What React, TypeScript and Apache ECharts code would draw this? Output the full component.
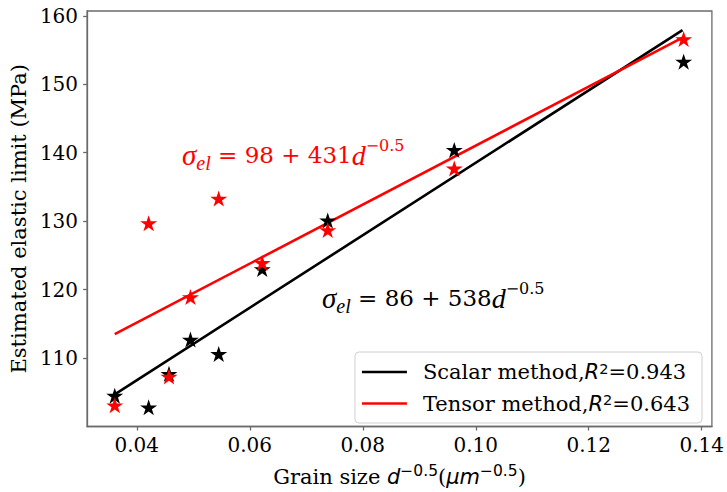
import React, { useEffect, useRef } from "react";
import * as echarts from "echarts";

// grain size d^-0.5 (µm^-0.5)
const grainSize = [0.0361, 0.0421, 0.0457, 0.0495, 0.0545, 0.0622, 0.0738, 0.0962, 0.1368];
// estimated elastic limit (MPa)
const scalarValues = [104.4, 102.7, 107.6, 112.6, 110.5, 122.9, 130.0, 140.3, 153.2];
const tensorValues = [103.0, 129.6, 107.2, 118.8, 133.2, 123.8, 128.6, 137.6, 156.5];
// fitted lines (end points)
const fitX = [0.0361, 0.1366];
const scalarFit = [104.7, 157.9];
const tensorFit = [113.5, 156.8];
const xTicks = [0.04, 0.06, 0.08, 0.1, 0.12, 0.14];
const yTicks = [110, 120, 130, 140, 150, 160];

const STAR =
  "path://M100,0 L122.45,69.1 L195.1,69.1 L136.33,111.8 L158.8,180.9 L100,138.2 L41.2,180.9 L63.67,111.8 L4.9,69.1 L77.55,69.1 Z";

const SERIF = "DejaVu Serif";
const MATH = "DejaVu Sans";

function pairs(xs: number[], ys: number[]) {
  return xs.map((x, i) => [x, ys[i]]);
}

function mathRich(color: string, size: number) {
  return {
    g: { fontFamily: "Liberation Serif", fontStyle: "italic", fontSize: size + 6, fill: color, color, lineHeight: 36, verticalAlign: "middle" },
    sub: { fontFamily: "Liberation Serif", fontStyle: "italic", fontSize: size - 3, fill: color, color, lineHeight: 26, verticalAlign: "bottom" },
    n: { fontFamily: SERIF, fontSize: size, fill: color, color, lineHeight: 36, verticalAlign: "middle" },
    i: { fontFamily: "Liberation Serif", fontStyle: "italic", fontSize: size + 5, fill: color, color, lineHeight: 36, verticalAlign: "middle" },
    sup: { fontFamily: SERIF, fontSize: size - 7, fill: color, color, lineHeight: 20, verticalAlign: "top" },
  };
}

export default function App() {
  const ref = useRef<HTMLDivElement>(null);
  useEffect(() => {
    if (!ref.current) return;
    const chart = echarts.init(ref.current, null, { renderer: "svg" });
    const axisLineStyle = { color: "#6b6b6b", width: 1.3 };
    chart.setOption({
      animation: false,
      backgroundColor: "#ffffff",
      grid: {
        left: 87,
        right: 14,
        top: 11,
        bottom: 58,
        show: true,
        borderColor: "#6b6b6b",
        borderWidth: 1.3,
        backgroundColor: "transparent",
      },
      xAxis: {
        type: "value",
        min: 0.0312,
        max: 0.1418,
        splitLine: { show: false },
        axisLine: { show: true, onZero: false, lineStyle: axisLineStyle },
        axisTick: { show: true, length: 4, lineStyle: axisLineStyle, customValues: xTicks },
        axisLabel: {
          customValues: xTicks,
          formatter: (v: number) => v.toFixed(2),
          fontFamily: SERIF,
          fontSize: 20,
          color: "#000",
          margin: 8,
        },
        name: "{t|Grain size }{i|d}{sup|−0.5}{t|(}{i|μm}{sup|−0.5}{t|)}",
        nameLocation: "middle",
        nameGap: 36,
        nameTextStyle: {
          rich: {
            t: { fontFamily: SERIF, fontSize: 21, color: "#000", lineHeight: 28, verticalAlign: "middle" },
            i: { fontFamily: MATH, fontStyle: "italic", fontSize: 21, color: "#000", lineHeight: 28, verticalAlign: "middle" },
            sup: { fontFamily: MATH, fontSize: 15.5, color: "#000", lineHeight: 18, verticalAlign: "top" },
          },
        },
      },
      yAxis: {
        type: "value",
        min: 100.0,
        max: 160.7,
        splitLine: { show: false },
        axisLine: { show: true, onZero: false, lineStyle: axisLineStyle },
        axisTick: { show: true, length: 4, lineStyle: axisLineStyle, customValues: yTicks },
        axisLabel: {
          customValues: yTicks,
          formatter: (v: number) => String(Math.round(v)),
          fontFamily: SERIF,
          fontSize: 20,
          color: "#000",
          margin: 9,
        },
        name: "Estimated elastic limit (MPa)",
        nameLocation: "middle",
        nameGap: 43,
        nameTextStyle: { fontFamily: SERIF, fontSize: 21, color: "#000" },
      },
      legend: {
        right: 25,
        bottom: 69,
        orient: "vertical",
        data: ["Scalar method", "Tensor method"],
        icon: "rect",
        itemWidth: 45,
        itemHeight: 2.5,
        itemGap: 10,
        padding: [9, 12, 9, 7],
        borderColor: "#d0d0d0",
        borderWidth: 1,
        borderRadius: 4,
        backgroundColor: "rgba(255,255,255,0.85)",
        formatter: (name: string) =>
          name === "Scalar method"
            ? "{t|Scalar method,}{i|R}{s|2}{t|=0.943}"
            : "{t|Tensor method,}{i|R}{s|2}{t|=0.643}",
        textStyle: {
          padding: [0, 0, 0, 11],
          rich: {
            t: { fontFamily: SERIF, fontSize: 21, color: "#000", lineHeight: 22, verticalAlign: "middle" },
            i: { fontFamily: MATH, fontStyle: "italic", fontSize: 21, color: "#000", lineHeight: 22, verticalAlign: "middle" },
            s: { fontFamily: MATH, fontSize: 14.5, color: "#000", lineHeight: 12, verticalAlign: "top" },
          },
        },
      },
      graphic: [
        {
          type: "text",
          left: 182,
          top: 137,
          style: {
            text: "{g|σ}{sub|el}{n| = 98 + 431}{i|d}{sup|−0.5}",
            rich: mathRich("#ff0000", 23),
            fill: "#ff0000",
          },
        },
        {
          type: "text",
          left: 322,
          top: 280,
          style: {
            text: "{g|σ}{sub|el}{n| = 86 + 538}{i|d}{sup|−0.5}",
            rich: mathRich("#000000", 23),
            fill: "#000000",
          },
        },
      ],
      series: [
        {
          name: "Scalar method",
          type: "line",
          data: pairs(fitX, scalarFit),
          showSymbol: false,
          symbol: "none",
          lineStyle: { color: "#000000", width: 2.6 },
          itemStyle: { color: "#000000" },
          z: 2,
        },
        {
          name: "Tensor method",
          type: "line",
          data: pairs(fitX, tensorFit),
          showSymbol: false,
          symbol: "none",
          lineStyle: { color: "#ff0000", width: 2.6 },
          itemStyle: { color: "#ff0000" },
          z: 3,
        },
        {
          name: "Scalar data",
          type: "scatter",
          data: pairs(grainSize, scalarValues),
          symbol: STAR,
          symbolSize: [17, 16],
          symbolOffset: [0, -0.7],
          itemStyle: { color: "#000000", opacity: 1 },
          z: 4,
        },
        {
          name: "Tensor data",
          type: "scatter",
          data: pairs(grainSize, tensorValues),
          symbol: STAR,
          symbolSize: [17, 16],
          symbolOffset: [0, -0.7],
          itemStyle: { color: "#ff0000", opacity: 1 },
          z: 5,
        },
      ],
    });
    return () => chart.dispose();
  }, []);
  return (
    <div
      ref={ref}
      style={{ position: "absolute", left: 0, top: 0, width: 727, height: 492, background: "#fff" }}
    />
  );
}
